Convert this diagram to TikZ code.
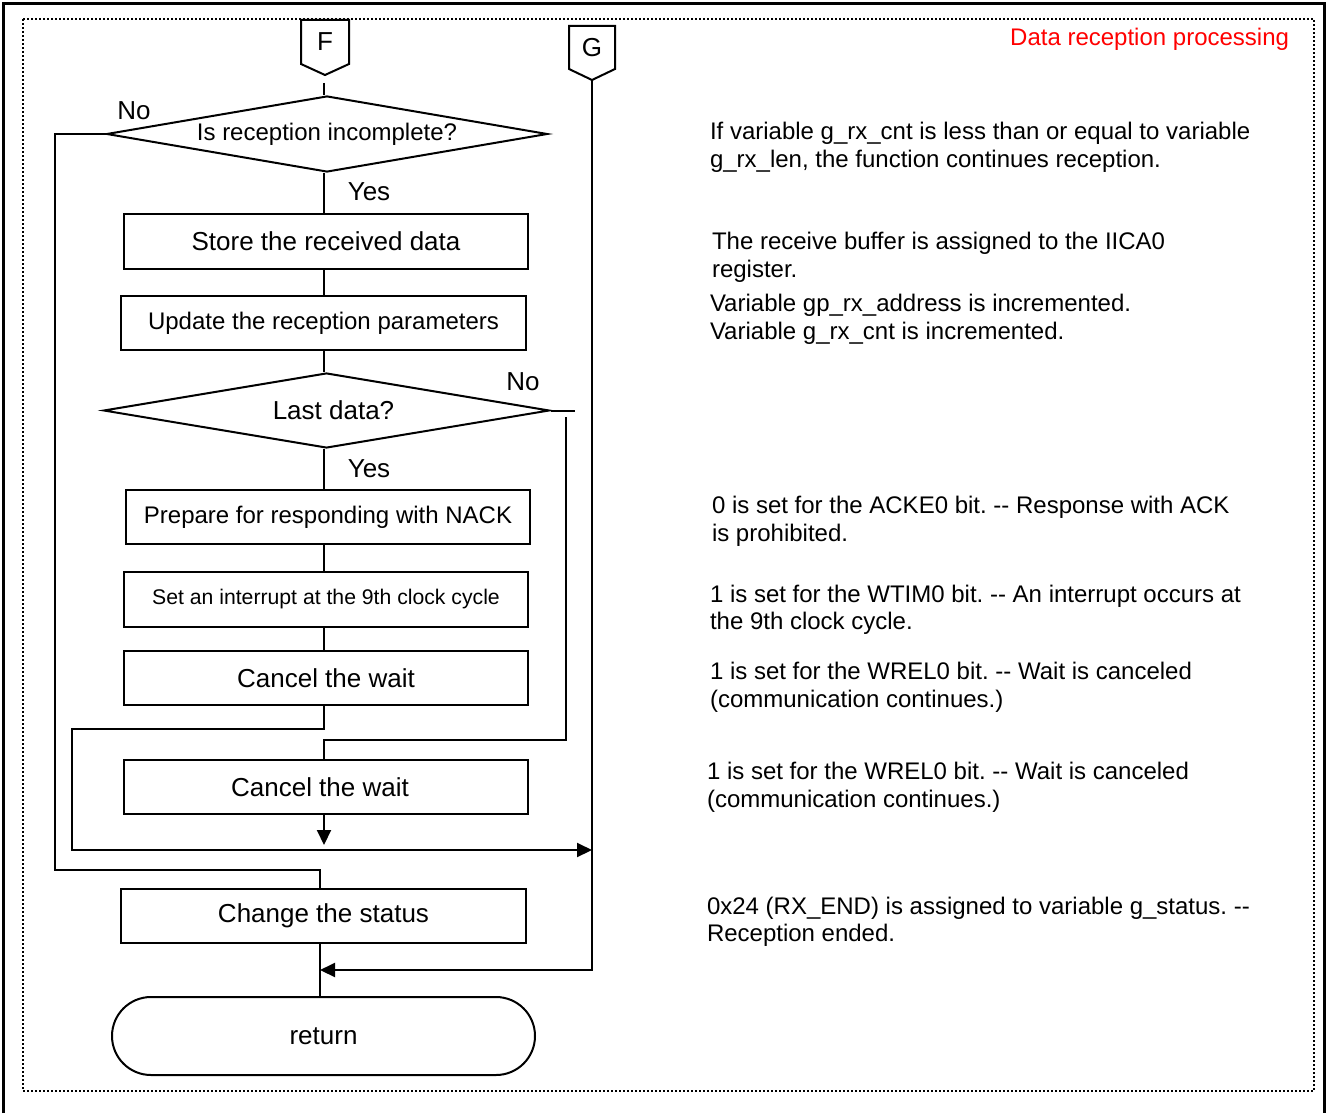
\documentclass[tikz,border=0pt]{standalone}
\usepackage{fontspec}
\setmainfont{Liberation Sans}
\usetikzlibrary{shapes.geometric,arrows.meta,calc}
\frenchspacing
\begin{document}
\begin{tikzpicture}[x=0.5pt,y=-0.5pt,
  line width=1pt,
  box/.style={draw,rectangle,minimum width=202pt,minimum height=27pt,inner sep=0pt,font=\fontsize{13}{15}\selectfont},
  dec/.style={draw,diamond,aspect=5.8,inner sep=0pt},
  arr/.style={-{Triangle[length=7.5pt,width=7pt]}},
  lbl/.style={font=\fontsize{13}{15}\selectfont,inner sep=0pt},
  conn/.style={inner sep=0pt,font=\fontsize{13}{15}\selectfont},
  note/.style={anchor=base west,inner sep=0pt,font=\fontsize{12}{14}\selectfont},
]
\useasboundingbox (0,0) rectangle (1326,1113);
% frames
\draw[line width=1.5pt] (3.5,1113) -- (3.5,3.5) -- (1324,3.5) -- (1324,1113);
\draw[line width=0.9pt,dash pattern=on 1pt off 1pt] (23,19) rectangle (1314,1091);
\node[note,anchor=base east,text=red] (title) at (1290,46) {Data reception processing};

% spine coordinates
\coordinate (ax) at (324,0);
\coordinate (ax2) at (320,0);

% off-page connectors
\node[conn,minimum width=23pt,minimum height=21pt] (F) at (325,42) {F};
\draw (F.south west) -- (F.north west) -- (F.north east) -- (F.south east) -- ($(F.south)+(0,11)$) -- cycle;
\node[conn,minimum width=22pt,minimum height=20.5pt] (G) at (592,47.5) {G};
\draw (G.south west) -- (G.north west) -- (G.north east) -- (G.south east) -- ($(G.south)+(0,11)$) -- cycle;
\coordinate (gt) at ($(G.south)+(0,11)$);

% flow nodes
\node[dec,minimum width=220.5pt,minimum height=38pt,font=\fontsize{12}{14}\selectfont] (d1) at (327,134) {\raisebox{-1.5pt}{Is reception incomplete?}};
\node[box,minimum height=27.5pt] (b1) at (326,241.5) {Store the received data};
\node[box,minimum width=202.5pt,font=\fontsize{12}{14}\selectfont] (b2) at (323.5,323) {\raisebox{-1pt}{Update the reception parameters}};
\node[dec,minimum width=223pt,minimum height=37.5pt,font=\fontsize{13}{15}\selectfont] (d2) at (326.5,410.5) {\hspace*{7pt}Last data?};
\node[box,font=\fontsize{12}{14}\selectfont] (b3) at (328,517) {\raisebox{-1.5pt}{Prepare for responding with NACK}};
\node[box,minimum height=27.5pt,font=\fontsize{10.6}{12}\selectfont] (b4) at (326,599.5) {\raisebox{-1.5pt}{Set an interrupt at the 9th clock cycle}};
\node[box] (b5) at (326,678) {Cancel the wait};
\node[box] (b6) at (326,787) {\hspace*{-6pt}Cancel the wait};
\node[box,minimum width=202.5pt] (b7) at (323.5,916) {\raisebox{-1pt}{Change the status}};
\node[draw,rectangle,rounded corners=19.5pt,minimum width=211.5pt,minimum height=39pt,inner sep=0pt,font=\fontsize{13}{15}\selectfont] (ret) at (323.5,1036) {return};

% labels
\node[lbl] (no1) at (134,111) {No};
\node[lbl] (yes1) at (369,192) {Yes};
\node[lbl] (no2) at (523,382) {No};
\node[lbl] (yes2) at (369,469) {Yes};

% connectors
\coordinate (f0) at (324,83);
\draw (f0) -- (ax |- d1.north);
\draw (ax |- d1.south) -- (ax |- b1.north);
\draw (ax |- b1.south) -- (ax |- b2.north);
\draw (ax |- b2.south) -- (ax |- d2.north);
\draw (ax |- d2.south) -- (ax |- b3.north);
\draw (ax |- b3.south) -- (ax |- b4.north);
\draw (ax |- b4.south) -- (ax |- b5.north);

% No branch of last data
\coordinate (rn) at (566,740);
\draw (d2.east) -- ++(24,0);
\draw (566,417) -- (rn) -- (ax |- rn) -- (ax |- b6.north);

% after cancel wait (b5) to junction
\coordinate (il) at (72,729);
\coordinate (j1) at (72,850);
\draw[arr] (ax |- b5.south) |- (il) -- (j1) -- (j1 -| gt);
\coordinate (t6) at (324,845);
\draw[arr] (ax |- b6.south) -- (t6);

% No branch of reception incomplete
\coordinate (nl) at (55,870);
\draw (d1.west) -| (nl) -| (ax2 |- b7.north);

% G line
\coordinate (gb) at (592,970);
\draw[arr] (gt) -- (gb) -- (gb -| ax2);
\draw (ax2 |- b7.south) -- (ax2 |- ret.north);

% notes
\node[note] (n1a) at (709,140) {If variable g\_rx\_cnt is less than or equal to variable};
\node[note] (n1b) at (709,167) {g\_rx\_len, the function continues reception.};
\node[note] (n2a) at (711,249) {The receive buffer is assigned to the IICA0};
\node[note] (n2b) at (711,277) {register.};
\node[note] (n3a) at (709,311) {Variable gp\_rx\_address is incremented.};
\node[note] (n3b) at (709,339) {Variable g\_rx\_cnt is incremented.};
\node[note] (n4a) at (711,513) {0 is set for the ACKE0 bit. -{}- Response with ACK};
\node[note] (n4b) at (711,541) {is prohibited.};
\node[note] (n5a) at (709,602) {1 is set for the WTIM0 bit. -{}- An interrupt occurs at};
\node[note] (n5b) at (709,629) {the 9th clock cycle.};
\node[note] (n6a) at (709,679) {1 is set for the WREL0 bit. -{}- Wait is canceled};
\node[note] (n6b) at (709,707) {(communication continues.)};
\node[note] (n7a) at (706,779) {1 is set for the WREL0 bit. -{}- Wait is canceled};
\node[note] (n7b) at (706,807) {(communication continues.)};
\node[note] (n8a) at (706,914) {0x24 (RX\_END) is assigned to variable g\_status. -{}-};
\node[note] (n8b) at (706,941) {Reception ended.};
\end{tikzpicture}
\end{document}
